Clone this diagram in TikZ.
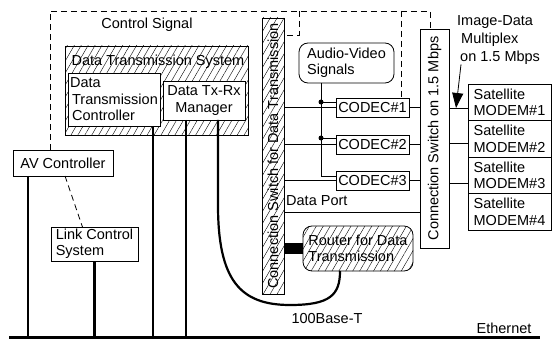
\documentclass[tikz,border=0pt]{standalone}
\usepackage{fontspec}
\setmainfont{Liberation Sans}
\usepackage{graphicx}
\usepackage{tikz}
\usetikzlibrary{calc}
\usetikzlibrary{positioning}
\usetikzlibrary{patterns.meta}
\usetikzlibrary{arrows.meta}
\tikzstyle{block} = [draw, line width=0.8pt, inner sep=0pt, outer sep=0pt, align=center]
\tikzstyle{hatch} = [pattern={Lines[angle=60,distance=6pt,line width=0.4pt]}]
\tikzstyle{soft} = [rounded corners=9pt]
\tikzstyle{plain} = [inner sep=0pt]
\tikzstyle{bus} = [line width=2.2pt]
\tikzstyle{sig} = [line width=0.8pt]
\tikzstyle{ctrl} = [line width=0.8pt, dash pattern=on 6pt off 4pt]
\tikzstyle{modem} = [block, minimum width=83pt, minimum height=36.5pt, align=left]

\begin{document}
\begin{tikzpicture}[x=1pt, y=-1pt, every node/.style={font=\fontsize{14.5}{16.5}\selectfont}]
	\useasboundingbox (0,0) rectangle (557,342);
	
	% data transmission system
	\node (dts) [block, hatch, minimum width=183pt, minimum height=89pt] at (156.5,90.5) {};
	\node (dtstitle) [plain] at (158,62) {Data Transmission System};
	\node (ctl) [block, fill=white, minimum width=92pt, minimum height=53pt, align=left] at (114,99.5) {Data\\\hspace*{2pt}Transmission\\\hspace*{2pt}Controller};
	\node (mgr) [block, fill=white, minimum width=82pt, minimum height=39pt] at (204,100.5) {Data Tx-Rx\\Manager};
	
	\node (avc) [block, minimum width=100pt, minimum height=26pt] at (63,163) {AV Controller};
	\node (lcs) [block, minimum width=87pt, minimum height=34pt, align=left] at (94.5,244) {Link Control\\System};
	
	% switches
	\node (dsw) [block, hatch, minimum width=22pt, minimum height=276pt] at (273,156) {\rotatebox{90}{Connection Switch for Data Transmission}};
	\node (sw15) [block, minimum width=29pt, minimum height=219pt] at (434.5,138.5) {\rotatebox{90}{Connection Switch on 1.5 Mbps}};
	
	\node (av) [block, soft, minimum width=95pt, minimum height=40pt, align=left] at (346.5,63) {Audio-Video\\Signals};
	\node (c1) [block, minimum width=73pt, minimum height=19pt] at (372.5,107.5) {CODEC\#1};
	\node (c2) [block, minimum width=73pt, minimum height=19pt, below=18pt of c1] {CODEC\#2};
	\node (c3) [block, minimum width=73pt, minimum height=19pt, below=17pt of c2] {CODEC\#3};
	\node (rtr) [block, hatch, soft, minimum width=110pt, minimum height=45pt, align=left] at (358,248.5) {Router for Data\\Transmission};
	
	\node (m1) [modem] at (509.5,102.5) {Satellite\\MODEM\#1};
	\foreach \i/\j in {2/1,3/2,4/3}
		\node (m\i) [modem, below=0pt of m\j] {Satellite\\MODEM\#\i};
	
	% texts
	\node (ctrltxt) [plain] at (147,25) {Control Signal};
	\node (mux) [plain, align=left, anchor=north west, font=\fontsize{14.5}{18}\selectfont] at (457,15) {Image-Data\\\hspace*{4pt}Multiplex\\\hspace*{3pt}on 1.5 Mbps};
	\node (base) [plain] at (327,319) {100Base-T};
	\node (ethtxt) [plain] at (504,328) {Ethernet};
	
	% ethernet
	\coordinate (ethL) at (9,337);
	\coordinate (ethR) at (540,337);
	\draw [line width=3pt] (ethL) -- (ethR);
	
	% control signal
	\coordinate (cs1) at (50,11);
	\coordinate (cs2) at (430,11);
	\coordinate (cs3) at (299,11);
	\coordinate (cs4) at (401,11);
	\draw [ctrl] (avc.north -| cs1) -- (cs1) -- (cs2) -- (cs2 |- sw15.north);
	\draw [ctrl] (cs3) |- ($(dsw.north east)+(0,17)$);
	\draw [ctrl] (cs4) -- (cs4 |- c1.north);
	\draw [ctrl] ($(avc.south)+(2,0)$) -- ($(lcs.north)+(-12,0)$);
	
	% lines to ethernet
	\path (avc.south west) ++(15,0) coordinate (b1);
	\path (ctl.south east) ++(-7,0) coordinate (b2);
	\path (mgr.south west) ++(23,0) coordinate (b3);
	\path (mgr.south west) ++(55,0) coordinate (b4);
	\path (rtr.south) ++(-18,0) coordinate (b5);
	\draw [bus] (b1) -- (b1 |- ethL);
	\draw [bus] (lcs.south) -- (lcs.south |- ethL);
	\draw [bus] (b2) -- (b2 |- ethL);
	\draw [bus] (b3) -- (b3 |- ethL);
	\draw [bus] (b4) -- ++(0,85) .. controls +(0,75) and (240,305) .. (290,305) .. controls (330,305) and (340,295) .. (b5);
	\draw [line width=11pt] (dsw.east |- rtr.west) -- (rtr.west);
	
	% codecs
	\draw [sig] (dsw.east |- c1.west) -- (c1.west);
	\draw [sig] (dsw.east |- c2.west) -- (c2.west);
	\draw [sig] (dsw.east |- c3.west) -- (c3.west);
	\draw [sig] (c1.east) -- (c1.east -| sw15.west);
	\draw [sig] (c2.east) -- (c2.east -| sw15.west);
	\draw [sig] (c3.east) -- (c3.east -| sw15.west);
	\coordinate (port) at ($(c3.west)+(0,31.5)$);
	\draw [sig] (port -| dsw.east) -- (port -| sw15.west);
	\node (dptxt) [plain, anchor=south west] at ($(port -| dsw.east)+(2,-6)$) {Data Port};
	
	\path (av.south) ++(-25.5,0) coordinate (avd);
	\coordinate (j1) at ($(avd |- c1.west)+(0,-5.5)$);
	\coordinate (j2) at ($(avd |- c2.west)+(0,-6.5)$);
	\coordinate (j3) at ($(avd |- c3.west)+(0,-4.5)$);
	\draw [sig] (avd) -- (j3) -- (j3 -| c3.west);
	\draw [sig] (j1) -- (j1 -| c1.west);
	\draw [sig] (j2) -- (j2 -| c2.west);
	\fill (j1) circle (2.5);
	\fill (j2) circle (2.5);
	
	% modems
	\coordinate (p1) at ($(m1.west)+(0,5.5)$);
	\coordinate (p2) at ($(m2.west)+(0,4)$);
	\coordinate (p3) at ($(m3.west)+(0,7.5)$);
	\foreach \p in {p1,p2,p3}
		\draw [sig] (\p -| sw15.east) -- (\p);
	\coordinate (tip) at ($(p1)+(-12,0)$);
	\draw [sig, -{Triangle[length=15pt,width=11pt]}] ($(mux.south west)+(4,0)$) -- (tip);
\end{tikzpicture}
\end{document}
